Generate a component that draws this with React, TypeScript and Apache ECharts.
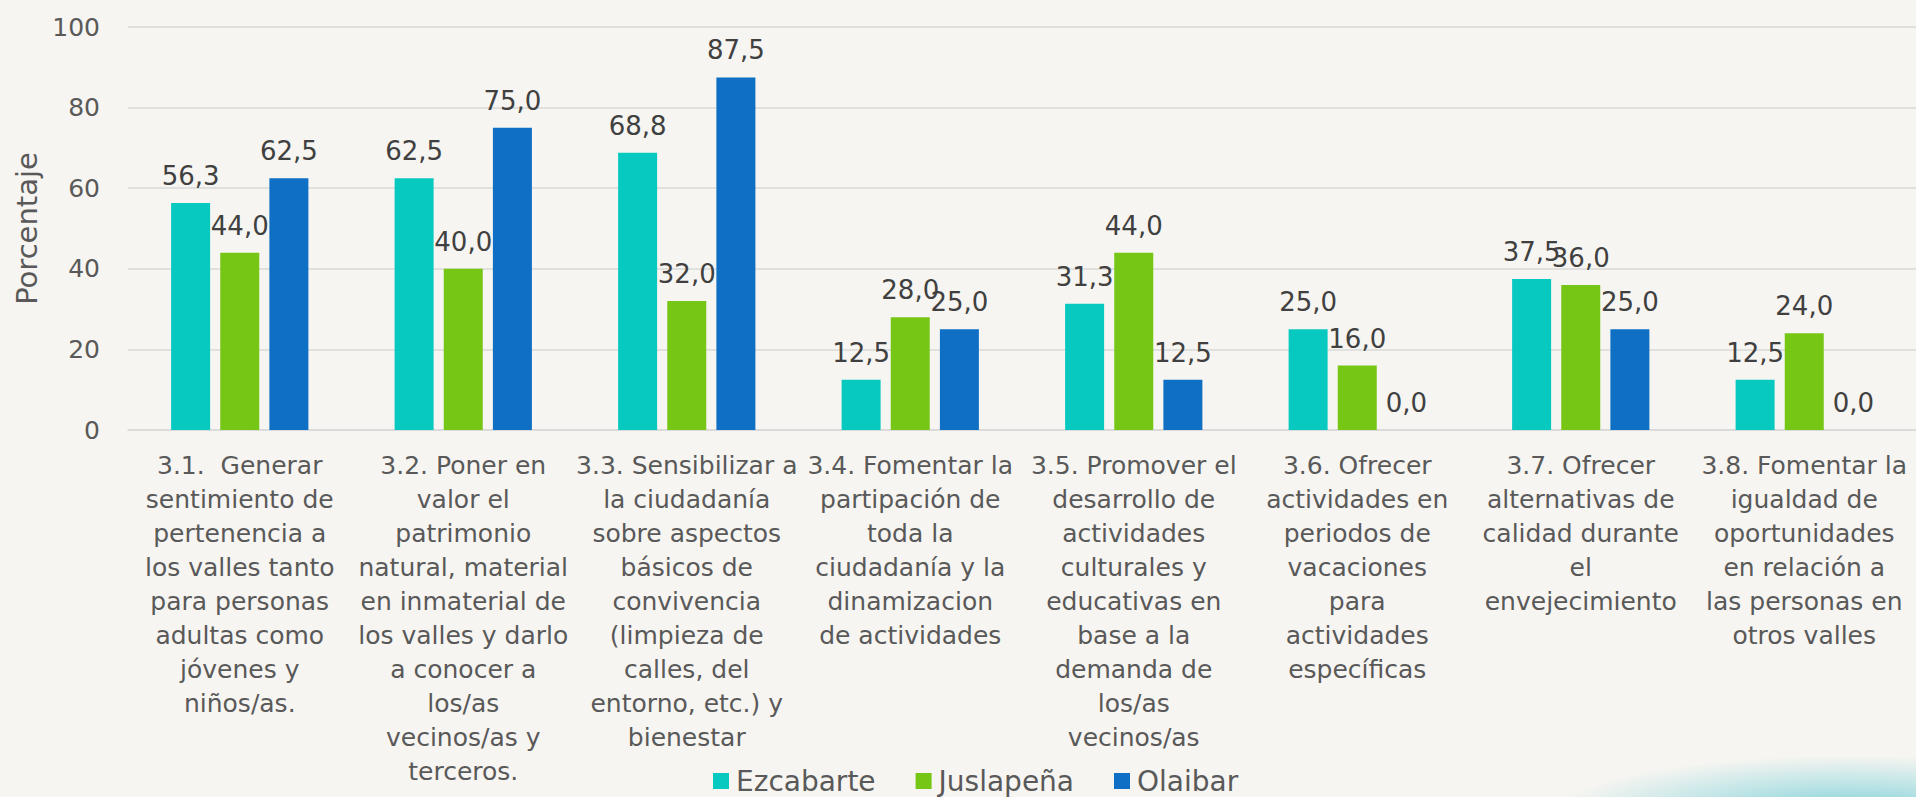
import React, { useEffect, useRef } from "react";
import * as echarts from "echarts";

const categories = [
  "3.1.  Generar\nsentimiento de\npertenencia a\nlos valles tanto\npara personas\nadultas como\njóvenes y\nniños/as.",
  "3.2. Poner en\nvalor el\npatrimonio\nnatural, material\nen inmaterial de\nlos valles y darlo\na conocer a\nlos/as\nvecinos/as y\nterceros.",
  "3.3. Sensibilizar a\nla ciudadanía\nsobre aspectos\nbásicos de\nconvivencia\n(limpieza de\ncalles, del\nentorno, etc.) y\nbienestar",
  "3.4. Fomentar la\npartipación de\ntoda la\nciudadanía y la\ndinamizacion\nde actividades",
  "3.5. Promover el\ndesarrollo de\nactividades\nculturales y\neducativas en\nbase a la\ndemanda de\nlos/as\nvecinos/as",
  "3.6. Ofrecer\nactividades en\nperiodos de\nvacaciones\npara\nactividades\nespecíficas",
  "3.7. Ofrecer\nalternativas de\ncalidad durante\nel\nenvejecimiento",
  "3.8. Fomentar la\nigualdad de\noportunidades\nen relación a\nlas personas en\notros valles",
];

const seriesNames = ["Ezcabarte", "Juslapeña", "Olaibar"];
const ezcabarte = [56.3, 62.5, 68.8, 12.5, 31.3, 25.0, 37.5, 12.5];
const juslapena = [44.0, 40.0, 32.0, 28.0, 44.0, 16.0, 36.0, 24.0];
const olaibar = [62.5, 75.0, 87.5, 25.0, 12.5, 0.0, 25.0, 0.0];
const colors = ["#08C9C0", "#76C616", "#0E6FC4"];

const FONT = "'DejaVu Sans'";
const WEIGHT = 400;

export default function App() {
  const ref = useRef<HTMLDivElement>(null);
  useEffect(() => {
    if (!ref.current) return;
    const chart = echarts.init(ref.current, undefined, { renderer: "svg" });
    const values = [ezcabarte, juslapena, olaibar];
    chart.setOption({
      animation: false,
      backgroundColor: "#F7F5F1",
      textStyle: { fontFamily: FONT, fontWeight: WEIGHT },
      graphic: [
        {
          type: "ellipse",
          shape: { cx: 1850, cy: 815, rx: 300, ry: 60 },
          style: {
            fill: {
              type: "radial",
              x: 0.5,
              y: 0.5,
              r: 0.5,
              colorStops: [
                { offset: 0, color: "rgba(70,190,205,0.75)" },
                { offset: 0.6, color: "rgba(110,205,215,0.35)" },
                { offset: 1, color: "rgba(110,205,215,0)" },
              ],
            },
          },
          silent: true,
          z: -10,
        },
      ],
      grid: { left: 128, right: 0, top: 27, bottom: 367, containLabel: false },
      legend: {
        data: seriesNames,
        left: 713,
        top: 767,
        padding: 0,
        icon: "rect",
        itemWidth: 16,
        itemHeight: 16,
        itemGap: 40,
        textStyle: { fontFamily: FONT, fontWeight: WEIGHT, fontSize: 28, color: "#595959", padding: [0, 0, 0, 2] },
      },
      xAxis: {
        type: "category",
        data: categories,
        axisLine: { lineStyle: { color: "#D9D9D9", width: 1.5 } },
        axisTick: { show: false },
        axisLabel: {
          interval: 0,
          margin: 18,
          color: "#595959",
          fontFamily: FONT,
          fontWeight: WEIGHT,
          fontSize: 25,
          lineHeight: 34.1,
          align: "center",
        },
      },
      yAxis: {
        type: "value",
        min: 0,
        max: 100,
        interval: 20,
        name: "Porcentaje",
        nameLocation: "middle",
        nameGap: 84,
        nameTextStyle: { fontFamily: FONT, fontWeight: WEIGHT, fontSize: 29, color: "#595959" },
        axisLine: { show: false },
        axisTick: { show: false },
        axisLabel: { margin: 28, color: "#595959", fontFamily: FONT, fontWeight: WEIGHT, fontSize: 25 },
        splitLine: { lineStyle: { color: "#D9D9D9", width: 1.5 } },
      },
      series: seriesNames.map((name, i) => ({
        name,
        type: "bar",
        data: values[i],
        barWidth: 39,
        barGap: "26%",
        itemStyle: { color: colors[i] },
        label: {
          show: true,
          position: "top",
          distance: 14,
          color: "#404040",
          fontFamily: FONT,
          fontWeight: WEIGHT,
          fontSize: 26,
          formatter: (p: any) => Number(p.value).toFixed(1).replace(".", ","),
        },
      })),
    });
    return () => chart.dispose();
  }, []);
  return (
    <div
      ref={ref}
      style={{ position: "absolute", left: 0, top: 0, width: 1916, height: 797 }}
    />
  );
}
